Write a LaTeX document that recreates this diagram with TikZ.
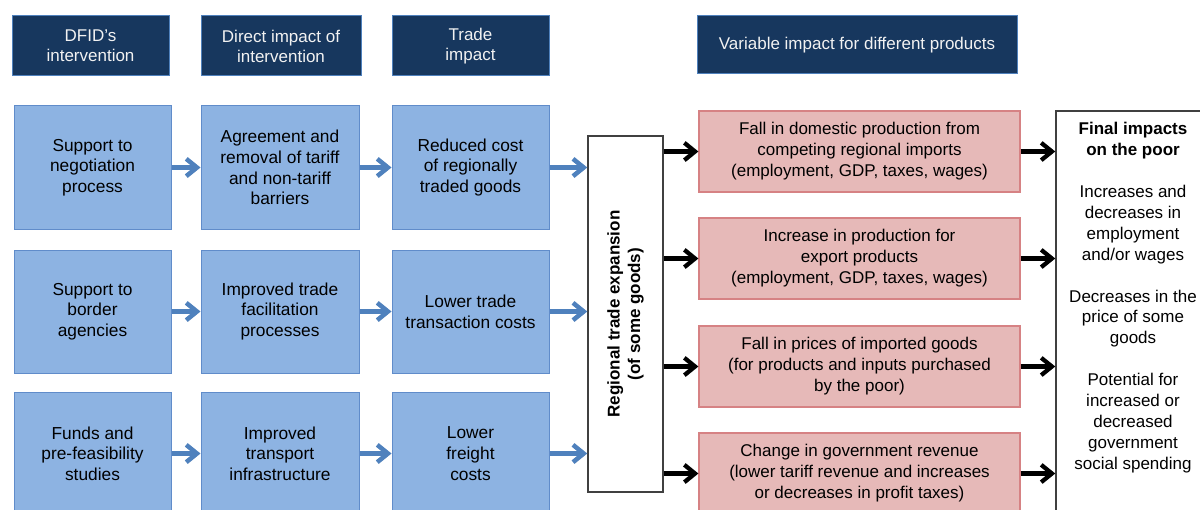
\documentclass[tikz,border=0pt]{standalone}
\usepackage{fontspec}
\setmainfont{Liberation Sans}
\usetikzlibrary{arrows.meta}

\definecolor{navy}{RGB}{23,55,94}
\definecolor{navyedge}{RGB}{79,129,189}
\definecolor{boxblue}{RGB}{141,179,226}
\definecolor{boxblueedge}{RGB}{96,140,202}
\definecolor{arrowblue}{RGB}{79,129,189}
\definecolor{boxpink}{RGB}{230,185,184}
\definecolor{boxpinkedge}{RGB}{214,130,132}
\definecolor{frame}{RGB}{64,64,64}
\definecolor{headtext}{RGB}{242,242,242}

\begin{document}
\begin{tikzpicture}[x=0.75pt,y=-0.75pt,
  hdr/.style={draw=navyedge, line width=0.75pt, fill=navy, text=headtext,
    minimum height=45pt, inner sep=0pt, align=center,
    font=\fontsize{12.75}{15}\selectfont},
  bluebox/.style={draw=boxblueedge, line width=0.75pt, fill=boxblue,
    minimum height=92.25pt, inner sep=0pt, align=center,
    font=\fontsize{13}{15.5}\selectfont},
  pinkbox/.style={draw=boxpinkedge, line width=0.9pt, fill=boxpink,
    minimum width=240.75pt, minimum height=60.75pt, inner sep=0pt,
    align=center, font=\fontsize{12.75}{15.8}\selectfont},
  plainbox/.style={draw=frame, line width=1.1pt, fill=white, inner sep=0pt},
  shadowed/.style={preaction={draw=black!30, opacity=0.35,
    transform canvas={xshift=1pt, yshift=-1pt}}},
  bluearrow/.style={shadowed, draw=arrowblue, line width=3.4pt,
    -{Straight Barb[length=8pt,width=13pt]}},
  blackarrow/.style={shadowed, draw=black, line width=3.2pt,
    -{Straight Barb[length=8pt,width=13pt]}}
]
\useasboundingbox (0,0) rectangle (1200,510);

% column headings
\node[hdr, minimum width=117.75pt] (h1) at (90.5,46) {DFID’s\\intervention};
\node[hdr, minimum width=120pt] (h2) at (281,46) {Direct impact of\\intervention};
\node[hdr, minimum width=117.75pt] (h3) at (470.5,46) {Trade\\impact};
\node[hdr, minimum width=240pt, minimum height=43.5pt] (h4) at (857,45)
  {Variable impact for different products};

% intervention chains
\node[bluebox, minimum width=117.75pt] (a1) at (92.5,167.5) {Support to\\negotiation\\process};
\node[bluebox, minimum width=118.5pt] (b1) at (280,167.5) {Agreement and\\removal of tariff\\and non-tariff\\barriers};
\node[bluebox, minimum width=117.75pt] (c1) at (470.5,167.5) {Reduced cost\\of regionally\\traded goods};

\node[bluebox, minimum width=117.75pt] (a2) at (92.5,311.5) {Support to\\border\\agencies};
\node[bluebox, minimum width=118.5pt] (b2) at (280,311.5) {Improved trade\\facilitation\\processes};
\node[bluebox, minimum width=117.75pt] (c2) at (470.5,311.5) {Lower trade\\transaction costs};

\node[bluebox, minimum width=117.75pt] (a3) at (92.5,453.5) {Funds and\\pre-feasibility\\studies};
\node[bluebox, minimum width=118.5pt] (b3) at (280,453.5) {Improved\\transport\\infrastructure};
\node[bluebox, minimum width=117.75pt] (c3) at (470.5,453.5) {Lower\\freight\\costs};

% regional trade expansion
\node[plainbox, minimum width=56.25pt, minimum height=267pt] (reg) at (625.5,314) {};
\node[rotate=90, align=center, font=\bfseries\fontsize{12.75}{15.5}\selectfont]
  (regtext) at (reg.center) {Regional trade expansion\\(of some goods)};

% product-level effects
\node[pinkbox] (p1) at (859.5,151.5) {Fall in domestic production from\\competing regional imports\\(employment, GDP, taxes, wages)};
\node[pinkbox] (p2) at (859.5,258.5) {Increase in production for\\export products\\(employment, GDP, taxes, wages)};
\node[pinkbox] (p3) at (859.5,366.5) {Fall in prices of imported goods\\(for products and inputs purchased\\by the poor)};
\node[pinkbox] (p4) at (859.5,473.5) {Change in government revenue\\(lower tariff revenue and increases\\or decreases in profit taxes)};

% final impacts
\node[plainbox, minimum width=115.5pt, minimum height=306.75pt] (fin) at (1133,315.5) {};
\node[anchor=north, align=center, inner sep=0pt,
  font=\fontsize{12.75}{15.7}\selectfont] (fintext) at (1133,122)
  {\textbf{Final impacts}\\\textbf{on the poor}\\[15.7pt]
   Increases and\\decreases in\\employment\\and/or wages\\[15.7pt]
   Decreases in the\\price of some\\goods\\[15.7pt]
   Potential for\\increased or\\decreased\\government\\social spending};

% connectors
\foreach \r in {1,2,3}{
  \draw[bluearrow] (a\r.east) -- (b\r.west);
  \draw[bluearrow] (b\r.east) -- (c\r.west);
  \draw[bluearrow] (c\r.east) -- (c\r.east -| reg.west);
}
\foreach \p in {1,2,3,4}{
  \draw[blackarrow] (reg.east |- p\p.west) -- (p\p.west);
  \draw[blackarrow] (p\p.east) -- (p\p.east -| fin.west);
}
\end{tikzpicture}
\end{document}
